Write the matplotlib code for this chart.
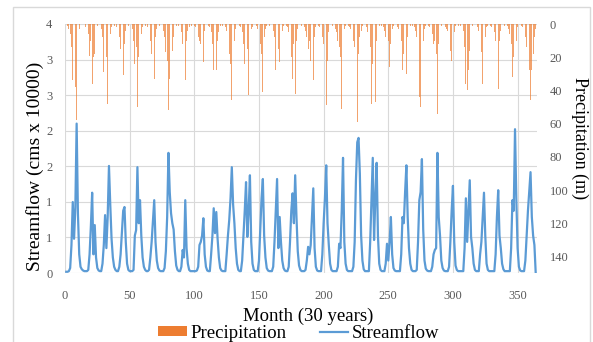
import numpy as np
import matplotlib
matplotlib.use("Agg")
import matplotlib.pyplot as plt
from matplotlib.ticker import FuncFormatter
from matplotlib.patches import Rectangle

SERIF = "Liberation Serif"
ORANGE = "#ED7D31"
BLUE = "#5B9BD5"
GRID = "#D9D9D9"
TICK_GRAY = "#595959"

# monthly streamflow (cms x 10000), one row per year, plus 4 trailing months
streamflow = [
    0.02, 0.02, 0.03, 0.08, 0.45, 1.14, 0.55, 1.05, 2.40, 0.95, 0.30, 0.10,
    0.06, 0.04, 0.03, 0.03, 0.03, 0.05, 0.30, 0.75, 1.29, 0.30, 0.77, 0.25,
    0.08, 0.04, 0.03, 0.03, 0.15, 0.45, 0.93, 0.40, 0.90, 1.72, 1.10, 0.55,
    0.25, 0.10, 0.05, 0.03, 0.03, 0.10, 0.30, 0.65, 1.00, 1.06, 0.50, 0.15,
    0.05, 0.03, 0.03, 0.03, 0.05, 0.60, 0.69, 1.70, 0.80, 1.17, 0.60, 0.25,
    0.10, 0.05, 0.03, 0.03, 0.05, 0.25, 0.50, 0.85, 1.17, 0.50, 0.20, 0.08,
    0.04, 0.03, 0.03, 0.03, 0.08, 0.35, 0.90, 1.93, 1.30, 0.96, 0.80, 0.70,
    0.35, 0.12, 0.05, 0.03, 0.03, 0.10, 0.37, 0.25, 1.17, 0.40, 0.15, 0.05,
    0.03, 0.03, 0.03, 0.03, 0.03, 0.04, 0.10, 0.45, 0.50, 0.60, 0.88, 0.30,
    0.10, 0.04, 0.03, 0.03, 0.30, 0.60, 1.04, 0.64, 0.98, 0.55, 0.25, 0.08,
    0.04, 0.03, 0.03, 0.03, 0.30, 0.60, 0.85, 1.20, 1.70, 1.10, 0.80, 0.40,
    0.15, 0.05, 0.03, 0.03, 0.20, 0.60, 1.00, 1.46, 0.58, 1.00, 1.57, 0.50,
    0.15, 0.05, 0.03, 0.03, 0.03, 0.20, 0.70, 1.20, 1.51, 0.60, 0.25, 0.08,
    0.04, 0.03, 0.03, 0.03, 0.10, 0.50, 1.00, 1.51, 0.40, 0.90, 0.50, 0.20,
    0.08, 0.04, 0.03, 0.03, 0.10, 0.50, 1.00, 1.28, 0.80, 1.57, 0.90, 0.35,
    0.12, 0.05, 0.03, 0.03, 0.03, 0.05, 0.20, 0.42, 0.30, 0.45, 0.90, 1.36,
    0.40, 0.10, 0.04, 0.03, 0.03, 0.03, 0.30, 0.80, 1.20, 1.73, 0.80, 0.45,
    0.15, 0.05, 0.03, 0.03, 0.03, 0.03, 0.10, 0.47, 0.40, 1.00, 1.85, 0.50,
    0.15, 0.05, 0.03, 0.03, 0.03, 0.03, 0.10, 0.50, 1.50, 2.10, 2.17, 1.60,
    0.60, 0.20, 0.06, 0.03, 0.03, 0.03, 0.03, 0.50, 1.20, 1.85, 0.53, 1.20,
    1.77, 0.60, 0.15, 0.05, 0.03, 0.03, 0.03, 0.15, 0.47, 0.20, 0.50, 0.90,
    0.30, 0.08, 0.04, 0.03, 0.03, 0.03, 0.03, 0.30, 0.90, 0.80, 1.30, 1.73,
    0.90, 0.40, 0.15, 0.05, 0.03, 0.03, 0.03, 0.05, 0.50, 1.17, 1.30, 1.83,
    0.70, 0.20, 0.07, 0.04, 0.03, 0.03, 0.03, 0.10, 0.30, 0.37, 0.40, 1.93,
    0.90, 0.60, 0.20, 0.08, 0.04, 0.03, 0.03, 0.03, 0.10, 0.50, 1.00, 1.40,
    0.50, 0.12, 0.05, 0.03, 0.03, 0.03, 0.03, 0.03, 0.40, 1.20, 0.50, 1.00,
    1.49, 0.58, 0.40, 0.15, 0.05, 0.03, 0.03, 0.03, 0.30, 0.50, 0.90, 1.29,
    0.60, 0.15, 0.05, 0.03, 0.03, 0.03, 0.03, 0.03, 0.30, 0.90, 1.33, 0.60,
    0.40, 0.15, 0.06, 0.03, 0.03, 0.03, 0.03, 0.03, 0.40, 1.17, 1.00, 2.31,
    1.20, 0.40, 0.10, 0.04, 0.03, 0.03, 0.03, 0.20, 0.60, 1.00, 1.30, 1.62,
    0.90, 0.60, 0.45, 0.00,
]

# monthly precipitation, same layout
precipitation = [
    0, 1, 3, 6, 14, 34, 22, 38, 58, 8, 3, 0,
    0, 1, 0, 2, 3, 6, 19, 10, 36, 20, 18, 3,
    1, 0, 2, 3, 8, 29, 12, 20, 48, 10, 6, 2,
    0, 1, 0, 2, 5, 8, 15, 18, 31, 12, 4, 1,
    1, 0, 2, 3, 10, 24, 14, 50, 20, 31, 6, 2,
    0, 1, 0, 2, 4, 10, 18, 12, 33, 8, 3, 1,
    1, 0, 2, 4, 8, 17, 22, 52, 33, 12, 16, 8,
    3, 1, 0, 1, 2, 5, 12, 8, 34, 10, 4, 2,
    0, 1, 0, 1, 2, 3, 8, 10, 12, 14, 23, 4,
    2, 0, 1, 2, 5, 12, 28, 15, 28, 10, 5, 1,
    0, 1, 0, 2, 4, 10, 18, 24, 46, 30, 10, 3,
    1, 0, 1, 2, 5, 12, 24, 40, 15, 43, 8, 3,
    2, 0, 1, 1, 3, 6, 12, 18, 41, 8, 3, 1,
    0, 1, 0, 2, 4, 8, 28, 44, 15, 23, 14, 4,
    1, 0, 1, 2, 5, 14, 20, 33, 12, 42, 10, 3,
    1, 0, 1, 0, 2, 4, 8, 15, 10, 22, 12, 34,
    8, 2, 0, 1, 2, 4, 8, 12, 18, 49, 22, 5,
    2, 0, 1, 1, 3, 5, 10, 14, 20, 51, 8, 3,
    1, 0, 1, 2, 3, 6, 10, 14, 25, 59, 18, 8,
    4, 1, 0, 1, 2, 5, 8, 14, 48, 24, 30, 47,
    10, 3, 1, 0, 1, 2, 4, 8, 16, 10, 26, 12,
    3, 1, 0, 1, 2, 3, 6, 10, 28, 18, 46, 30,
    8, 2, 1, 0, 1, 2, 4, 8, 12, 44, 50, 20,
    10, 3, 1, 0, 1, 2, 3, 6, 12, 10, 18, 54,
    12, 4, 1, 0, 1, 2, 3, 4, 8, 16, 22, 38,
    5, 1, 0, 1, 0, 1, 2, 4, 14, 36, 40, 28,
    16, 6, 1, 0, 1, 0, 2, 4, 8, 17, 36, 34,
    8, 2, 1, 0, 1, 2, 3, 5, 10, 15, 39, 10,
    4, 1, 0, 1, 0, 1, 3, 6, 12, 32, 20, 62,
    10, 2, 1, 0, 1, 2, 4, 8, 14, 22, 28, 46,
    28, 18, 8, 3,
]

months = np.arange(1, len(streamflow) + 1)

x_ticks = [0, 50, 100, 150, 200, 250, 300, 350]
left_ticks = np.linspace(0, 4, 8)
right_ticks = [0, 20, 40, 60, 80, 100, 120, 140]

fig = plt.figure(figsize=(5.93, 3.42), dpi=100)
ax = fig.add_axes([65 / 593, 1 - 273 / 342, 472 / 593, 249 / 342])
ax2 = ax.twinx()

line, = ax.plot(months, streamflow, color=BLUE, lw=1.6)
# thin bars look washed out in the original, so lighten them a bit
ax2.bar(months, precipitation, width=0.6, color=ORANGE, alpha=0.7, lw=0)

ax.set_xlim(0, 365)
ax.set_ylim(0, 4)
ax2.set_ylim(150, 0)

ax.set_xticks(x_ticks)
ax.set_yticks(left_ticks)
ax.yaxis.set_major_formatter(FuncFormatter(lambda v, _p: f"{v:.0f}"))
ax2.set_yticks(right_ticks)

ax.grid(True, color=GRID, lw=0.8)
ax.set_axisbelow(True)
for a in (ax, ax2):
    for s in a.spines.values():
        s.set_visible(False)

ax.tick_params(axis="x", length=0, pad=12, labelsize=9, labelcolor=TICK_GRAY)
ax.tick_params(axis="y", length=0, pad=9, labelsize=9, labelcolor=TICK_GRAY)
ax2.tick_params(axis="y", length=0, pad=9, labelsize=9, labelcolor=TICK_GRAY)
for lbl in ax.get_xticklabels() + ax.get_yticklabels() + ax2.get_yticklabels():
    lbl.set_fontfamily(SERIF)

fig.text(35 / 593, 1 - 166 / 342, "Streamflow (cms x 10000)", rotation=90,
         ha="center", va="center", fontsize=14, family=SERIF)
fig.text(580 / 593, 1 - 138 / 342, "Precipitation (m)", rotation=-90,
         ha="center", va="center", fontsize=13, family=SERIF)
fig.text(308 / 593, 1 - 316 / 342, "Month (30 years)",
         ha="center", va="center", fontsize=13.5, family=SERIF)

bar_key = Rectangle((0, 0), 1, 1, color=ORANGE, lw=0)
fig.legend([bar_key, line], ["Precipitation", "Streamflow"], loc="center",
           bbox_to_anchor=(299 / 593, 1 - 333 / 342), ncol=2, frameon=False,
           prop={"family": SERIF, "size": 13.5}, handlelength=1.5,
           handleheight=0.45, handletextpad=0.2, columnspacing=1.8,
           borderpad=0, borderaxespad=0)

fig.add_artist(Rectangle((13 / 593, -0.05), 577 / 593, 1.05 - 7 / 342,
                         transform=fig.transFigure, fill=False,
                         ec=GRID, lw=1))

fig.savefig("out.png", dpi=100)
